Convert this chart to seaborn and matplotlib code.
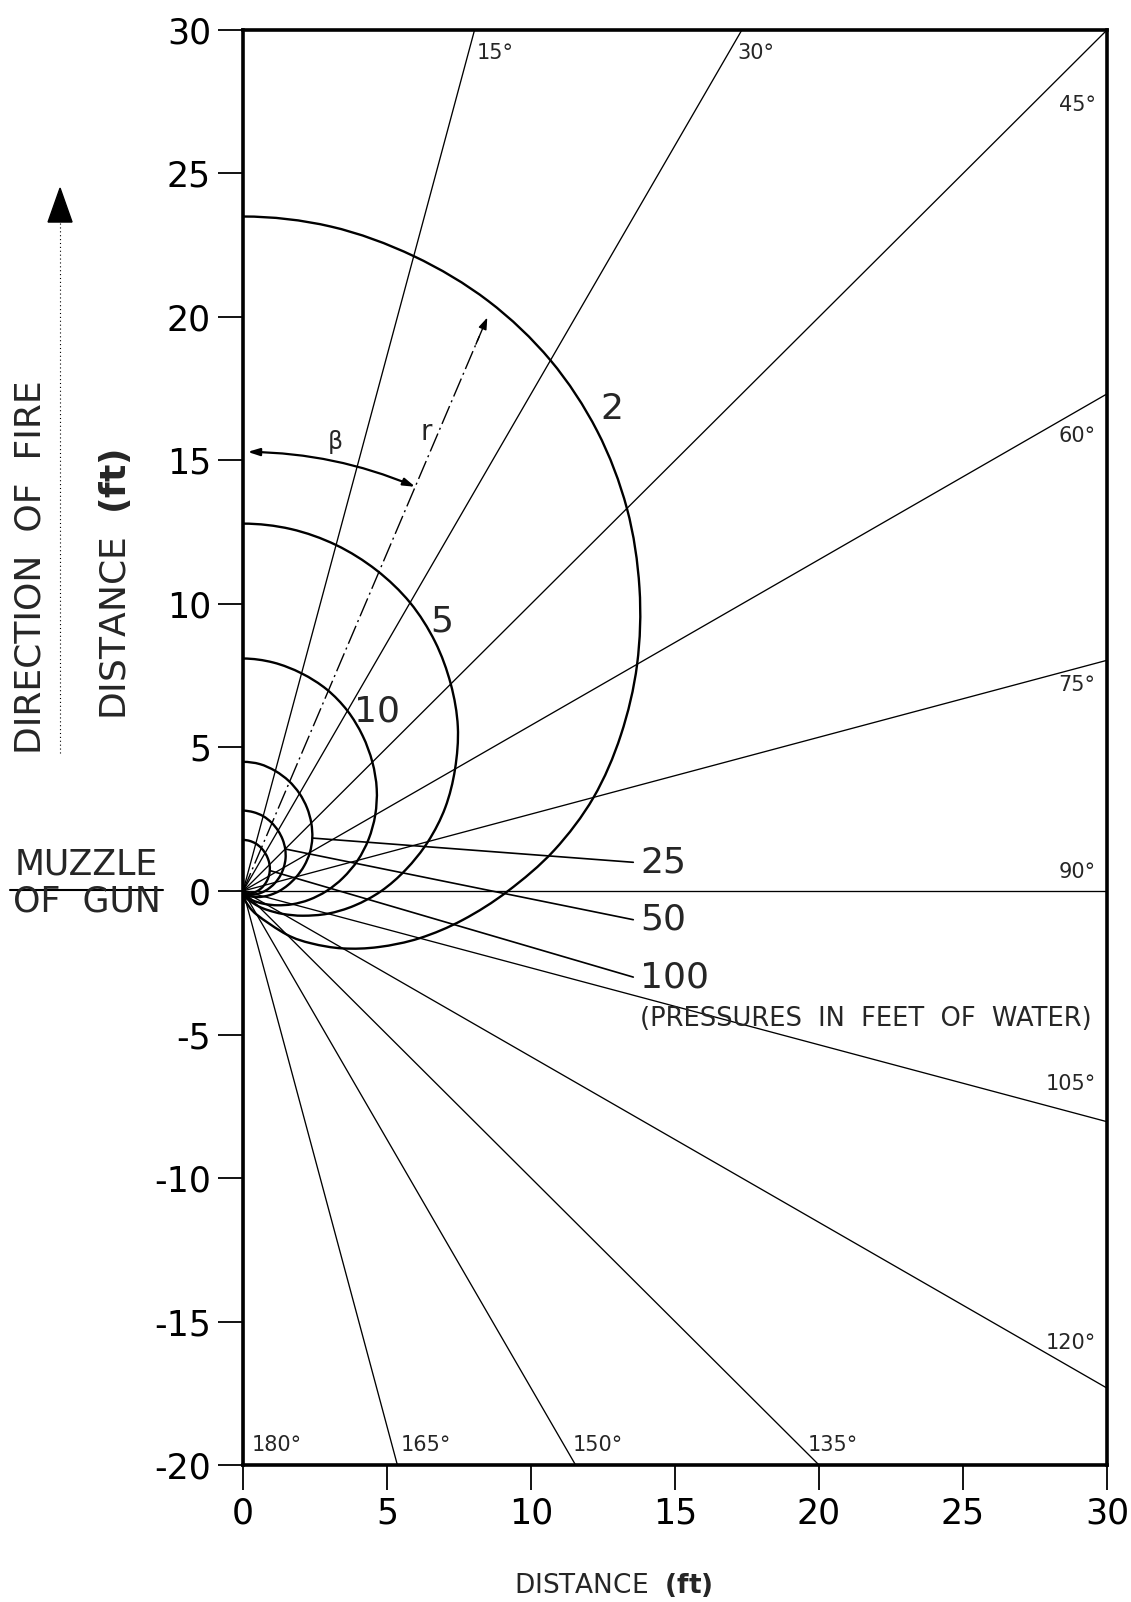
import numpy as np
import pandas as pd
import seaborn as sns
import matplotlib.pyplot as plt
from matplotlib.lines import Line2D
from matplotlib.patches import Polygon, PathPatch
from matplotlib.path import Path

# radial lines, degrees measured from the direction of fire
ray_angles = [15, 30, 45, 60, 75, 90, 105, 120, 135, 150, 165, 180]

# pressure contours (feet of water), radius r (ft) read at each angle beta
pressures = [2, 5, 10, 25, 50, 100]
beta_pts = [0, 7.5, 15, 22.5, 30, 37.5, 45, 52.5, 60, 67.5, 75, 82.5, 90,
            97.5, 105, 112.5, 120, 127.5, 135, 150, 165, 180]
r_p2 = [23.5, 23.35, 22.9, 22.25, 21.35, 20.2, 18.85, 17.35, 15.8, 14.2, 12.6, 10.9,
        9.2, 7.7, 6.35, 5.1, 4.0, 3.0, 2.15, 0.95, 0.4, 0.15]
r_p5 = [12.8, 12.72, 12.48, 12.1, 11.6, 10.95, 10.2, 9.4, 8.5, 7.6, 6.65, 5.7,
        4.8, 3.9, 3.05, 2.25, 1.6, 1.1, 0.75, 0.35, 0.18, 0.1]
r_p10 = [8.1, 8.03, 7.85, 7.6, 7.25, 6.82, 6.35, 5.85, 5.3, 4.72, 4.12, 3.5,
         2.9, 2.32, 1.78, 1.3, 0.92, 0.64, 0.45, 0.22, 0.12, 0.07]
r_p25 = [4.5, 4.46, 4.33, 4.15, 3.92, 3.65, 3.35, 3.03, 2.68, 2.3, 1.92, 1.57,
         1.26, 0.98, 0.74, 0.55, 0.4, 0.3, 0.22, 0.12, 0.07, 0.04]
r_p50 = [2.8, 2.77, 2.7, 2.58, 2.43, 2.26, 2.07, 1.86, 1.63, 1.4, 1.17, 0.95,
         0.76, 0.59, 0.45, 0.34, 0.25, 0.19, 0.14, 0.08, 0.05, 0.03]
r_p100 = [1.78, 1.76, 1.71, 1.63, 1.53, 1.42, 1.3, 1.17, 1.03, 0.89, 0.75, 0.62,
          0.5, 0.39, 0.3, 0.23, 0.17, 0.13, 0.1, 0.06, 0.04, 0.02]
radii = [r_p2, r_p5, r_p10, r_p25, r_p50, r_p100]

xticks = [0, 5, 10, 15, 20, 25, 30]
yticks = [-20, -15, -10, -5, 0, 5, 10, 15, 20, 25, 30]

sns.set_style("ticks")
plt.rcParams["font.family"] = ["DejaVu Sans"]
plt.rcParams["axes.unicode_minus"] = False
plt.rcParams["mathtext.fontset"] = "dejavusans"

fig = plt.figure(figsize=(11.31, 16.02), dpi=100)
ax = fig.add_axes([0.2149, 0.0855, 0.7639, 0.8958])


def smooth_path(xs, ys):
    # smooth curve through the read points (mirrored at the axis of fire)
    pts = np.column_stack([xs, ys])
    ext = np.vstack([[-xs[1], ys[1]], pts, pts[-1]])
    verts = [pts[0]]
    codes = [Path.MOVETO]
    for i in range(len(pts) - 1):
        p0, p1, p2, p3 = ext[i], ext[i + 1], ext[i + 2], ext[i + 3]
        verts += [p1 + (p2 - p0) / 6, p2 - (p3 - p1) / 6, p2]
        codes += [Path.CURVE4] * 3
    return Path(verts, codes)


# radial lines clipped to the plot box
rows = []
for a in ray_angles:
    t = np.radians(a)
    s, c = np.sin(t), np.cos(t)
    cand = []
    if s > 1e-9:
        cand.append(30 / s)
    if c > 1e-9:
        cand.append(30 / c)
    if c < -1e-9:
        cand.append(20 / -c)
    L = min(cand)
    rows.append({"a": a, "x": 0.0, "y": 0.0})
    rows.append({"a": a, "x": L * s, "y": L * c})
rays = pd.DataFrame(rows)
sns.lineplot(data=rays, x="x", y="y", units="a", estimator=None, sort=False,
             color="black", lw=0.95, ax=ax, legend=False)

# contours
rows = []
for p, rr in zip(pressures, radii):
    for b, r in zip(beta_pts, rr):
        t = np.radians(b)
        rows.append({"p": p, "x": r * np.sin(t), "y": r * np.cos(t)})
cont = pd.DataFrame(rows)
for p, g in cont.groupby("p"):
    ax.add_patch(PathPatch(smooth_path(g["x"].values, g["y"].values),
                           fill=False, edgecolor="black", lw=1.7))

# ray labels
ray_label_shift = {45: -1.6, 60: -0.9, 75: -0.6, 90: 0.65, 105: 1.05, 120: 1.0}
for a in ray_angles:
    t = np.radians(a)
    s, c = np.sin(t), np.cos(t)
    if a < 45:
        y = 29.2
        ax.text(y * s / c + 0.3, y, f"{a}°", ha="left", va="center", fontsize=15)
    elif a <= 120:
        y = 29.0 * c / s + ray_label_shift[a]
        ax.text(29.6, y, f"{a}°", ha="right", va="center", fontsize=15)
    else:
        y = -19.3
        ax.text(y * s / c + 0.3, y, f"{a}°", ha="left", va="center", fontsize=15)

# pressure labels
label_pos = {2: (12.8, 16.8, "center"), 5: (6.9, 9.4, "center"),
             10: (4.65, 6.25, "center"), 25: (13.8, 1.0, "left"),
             50: (13.8, -1.0, "left"), 100: (13.8, -3.0, "left")}
leader_idx = {25: 7, 50: 6, 100: 7}
for p, rr in zip(pressures, radii):
    lx, ly, ha = label_pos[p]
    ax.text(lx, ly, str(p), ha=ha, va="center", fontsize=26)
    if p in leader_idx:
        i = leader_idx[p]
        t = np.radians(beta_pts[i])
        ax.plot([rr[i] * np.sin(t), lx - 0.25], [rr[i] * np.cos(t), ly],
                color="black", lw=1.2)
ax.text(13.8, -4.45, "(PRESSURES  IN  FEET  OF  WATER)", ha="left", va="center",
        fontsize=18.5)

# r line and beta arc
r_ang = np.radians(23)
r_len = 21.8
ax.plot([0, (r_len - 0.8) * np.sin(r_ang)], [0, (r_len - 0.8) * np.cos(r_ang)],
        color="black", lw=1.0, dashes=(14, 3, 1.5, 3))
ax.annotate("", xy=(r_len * np.sin(r_ang), r_len * np.cos(r_ang)),
            xytext=((r_len - 1.2) * np.sin(r_ang), (r_len - 1.2) * np.cos(r_ang)),
            arrowprops=dict(arrowstyle="-|>,head_length=0.7,head_width=0.25",
                            color="black", lw=1.0))
arc_r = 15.3
a0, a1 = np.radians(0.6), np.radians(23)
ax.annotate("", xy=(arc_r * np.sin(a1), arc_r * np.cos(a1)),
            xytext=(arc_r * np.sin(a0), arc_r * np.cos(a0)),
            arrowprops=dict(arrowstyle="<|-|>,head_length=0.7,head_width=0.22",
                            connectionstyle="arc3,rad=-0.097",
                            color="black", lw=1.6, shrinkA=0, shrinkB=0))
ax.text(3.2, 15.65, "β", ha="center", va="center", fontsize=17)
ax.text(6.35, 16.0, "r", ha="center", va="center", fontsize=20)

# axes
ax.set_xlim(0, 30)
ax.set_ylim(-20, 30)
ax.set_xticks(xticks)
ax.set_yticks(yticks)
ax.set_xlabel("")
ax.set_ylabel("")
ax.tick_params(axis="y", direction="out", length=18, width=1.3, labelsize=25,
               pad=5, colors="black", left=True)
ax.tick_params(axis="x", direction="out", length=18, width=1.3, labelsize=25,
               pad=5, colors="black", bottom=True)
for sp in ax.spines.values():
    sp.set_linewidth(2.6)
    sp.set_color("black")
    sp.set_visible(True)

# labels around the figure
fig.text(0.1017, 0.635, r"DISTANCE  $\mathbf{(ft)}$", rotation=90,
         ha="center", va="center", fontsize=26)
fig.text(0.542, 0.0108, r"DISTANCE  $\mathbf{(ft)}$", ha="center", va="center",
         fontsize=19)
fig.text(0.0274, 0.646, "DIRECTION  OF  FIRE", rotation=90, ha="center",
         va="center", fontsize=26)
fig.add_artist(Line2D([0.0531, 0.0531], [0.530, 0.8614], color="black",
                      lw=0.8, ls=(0, (1, 2.5))))
fig.add_artist(Polygon([[0.0425, 0.8614], [0.0637, 0.8614], [0.0531, 0.8826]],
                       closed=True, transform=fig.transFigure, color="black"))
fig.text(0.0765, 0.4605, "MUZZLE", ha="center", va="center", fontsize=25)
fig.text(0.0765, 0.4375, "OF  GUN", ha="center", va="center", fontsize=25)
fig.add_artist(Line2D([0.009, 0.144], [0.4447, 0.4447], color="black", lw=1.5))

fig.savefig("out.png", dpi=100)
